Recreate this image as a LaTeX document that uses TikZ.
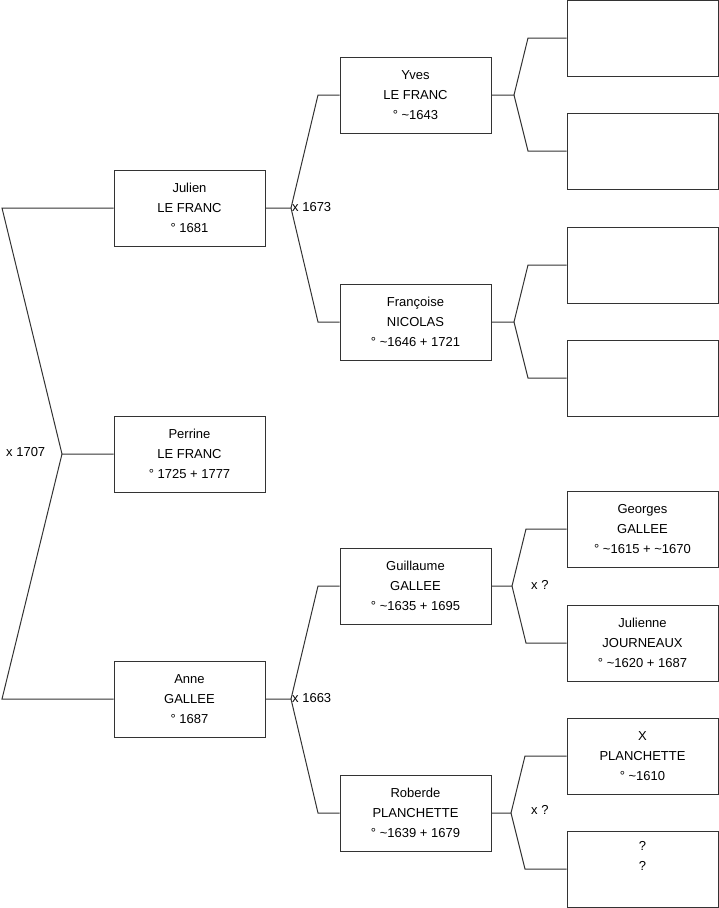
\documentclass[tikz,border=0pt]{standalone}
\usepackage{fontspec}
\setmainfont{Liberation Sans}
\begin{document}
\begin{tikzpicture}[x=1pt,y=-1pt,
  person/.style={draw=black!80,line width=1pt,fill=white,minimum width=151pt,minimum height=76pt,
    align=center,inner sep=0pt,font=\fontsize{13}{20}\selectfont},
  conn/.style={draw=black!80,line width=1pt},
  lbl/.style={anchor=west,inner sep=0pt,font=\fontsize{13}{16}\selectfont}]
\useasboundingbox (0,0) rectangle (719,908);
% column 1
\node[person] (julien) at (189.5,208) {Julien\\LE FRANC\\° 1681};
\node[person] (perrine) at (189.5,454) {Perrine\\LE FRANC\\° 1725 + 1777};
\node[person] (anne) at (189.5,699) {Anne\\GALLEE\\° 1687};
% column 2
\node[person] (yves) at (415.5,95) {Yves\\LE FRANC\\° \textasciitilde1643};
\node[person] (francoise) at (415.5,322) {Françoise\\NICOLAS\\° \textasciitilde1646 + 1721};
\node[person] (guillaume) at (415.5,586) {Guillaume\\GALLEE\\° \textasciitilde1635 + 1695};
\node[person] (roberde) at (415.5,813) {Roberde\\PLANCHETTE\\° \textasciitilde1639 + 1679};
% column 3
\node[person] (p1) at (642.5,38) {};
\node[person] (p2) at (642.5,151) {};
\node[person] (p3) at (642.5,265) {};
\node[person] (p4) at (642.5,378) {};
\node[person] (georges) at (642.5,529) {Georges\\GALLEE\\° \textasciitilde1615 + \textasciitilde1670};
\node[person] (julienne) at (642.5,643) {Julienne\\JOURNEAUX\\° \textasciitilde1620 + 1687};
\node[person] (xpl) at (642.5,756) {X\\PLANCHETTE\\° \textasciitilde1610};
\node[person] (unk) at (642.5,869) {?\\?\\\strut};
% connectors: Perrine's parents
\coordinate (c1a) at (2,208);
\coordinate (c1m) at (62,454);
\coordinate (c1b) at (2,699);
\draw[conn] (julien.west) -- (c1a) -- (c1m) -- (perrine.west);
\draw[conn] (c1m) -- (c1b) -- (anne.west);
\node[lbl] (l1707) at (6,452) {x 1707};
% Julien's parents
\coordinate (c2m) at (291,208);
\coordinate (c2a) at (318,95);
\coordinate (c2b) at (318,322);
\draw[conn] (julien.east) -- (c2m) -- (c2a) -- (yves.west);
\draw[conn] (c2m) -- (c2b) -- (francoise.west);
\node[lbl] (l1673) at (292,207) {x 1673};
% Anne's parents
\coordinate (c3m) at (291,699);
\coordinate (c3a) at (318,586);
\coordinate (c3b) at (318,813);
\draw[conn] (anne.east) -- (c3m) -- (c3a) -- (guillaume.west);
\draw[conn] (c3m) -- (c3b) -- (roberde.west);
\node[lbl] (l1663) at (292,698) {x 1663};
% Yves's parents
\coordinate (c4m) at (514,95);
\coordinate (c4a) at (528,38);
\coordinate (c4b) at (528,151);
\draw[conn] (yves.east) -- (c4m) -- (c4a) -- (p1.west);
\draw[conn] (c4m) -- (c4b) -- (p2.west);
% Françoise's parents
\coordinate (c5m) at (514,322);
\coordinate (c5a) at (528,265);
\coordinate (c5b) at (528,378);
\draw[conn] (francoise.east) -- (c5m) -- (c5a) -- (p3.west);
\draw[conn] (c5m) -- (c5b) -- (p4.west);
% Guillaume's parents
\coordinate (c6m) at (512,586);
\coordinate (c6a) at (526,529);
\coordinate (c6b) at (526,643);
\draw[conn] (guillaume.east) -- (c6m) -- (c6a) -- (georges.west);
\draw[conn] (c6m) -- (c6b) -- (julienne.west);
\node[lbl] (lq1) at (531,585) {x ?};
% Roberde's parents
\coordinate (c7m) at (511,813);
\coordinate (c7a) at (525,756);
\coordinate (c7b) at (525,869);
\draw[conn] (roberde.east) -- (c7m) -- (c7a) -- (xpl.west);
\draw[conn] (c7m) -- (c7b) -- (unk.west);
\node[lbl] (lq2) at (531,810) {x ?};
\end{tikzpicture}
\end{document}
